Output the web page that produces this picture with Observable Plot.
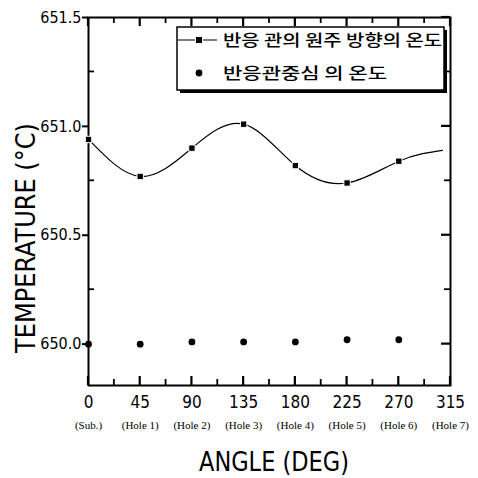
<!DOCTYPE html>
<html><head><meta charset="utf-8">
<script src="https://cdn.jsdelivr.net/npm/d3@7"></script>
<script src="https://cdn.jsdelivr.net/npm/@observablehq/plot@0.6"></script>
<style>body{margin:0;background:#fff}</style>
</head><body><div id="chart"></div>
<script>
const angles = [0, 45, 90, 135, 180, 225, 270];
const wallTemp = [650.94, 650.77, 650.90, 651.01, 650.82, 650.74, 650.84];
const curveEnd = {angle: 308, temp: 650.89};
const centerTemp = [650.00, 650.00, 650.01, 650.01, 650.01, 650.02, 650.02];
const xTicks = [0, 45, 90, 135, 180, 225, 270, 315];
const xTickSub = ["(Sub.)", "(Hole 1)", "(Hole 2)", "(Hole 3)", "(Hole 4)", "(Hole 5)", "(Hole 6)", "(Hole 7)"];
const xMinor = [22.5, 67.5, 112.5, 157.5, 202.5, 247.5, 292.5];
const yTicks = [650.0, 650.5, 651.0, 651.5];
const yMinor = [650.25, 650.75, 651.25];
const legendLabels = ["반응 관의 원주 방향의 온도", "반응관중심 의 온도"];
const xTitle = "ANGLE (DEG)";
const yTitle = "TEMPERATURE (°C)";

const wall = angles.map((a, i) => ({angle: a, temp: wallTemp[i]}));
const wallCurve = [...wall, curveEnd];
const center = angles.map((a, i) => ({angle: a, temp: centerTemp[i]}));
const xLab = xTicks.map((t, i) => ({t, sub: xTickSub[i]}));
const FONT = "'DejaVu Sans Condensed', 'Liberation Sans', Arial, sans-serif";
const SERIF = "'Liberation Serif', 'DejaVu Serif', serif";

const plot = Plot.plot({
  width: 478, height: 478,
  marginLeft: 88, marginRight: 28, marginTop: 17, marginBottom: 93,
  x: {domain: [0, 315], axis: null},
  y: {domain: [649.81, 651.5]},
  style: {fontFamily: FONT, background: "white", color: "black"},
  marks: [
    Plot.axisY({anchor: "left", ticks: yTicks, tickSize: 6, tickPadding: 1, tickFormat: d3.format(".1f"), fontSize: 16, label: null, strokeWidth: 2}),
    Plot.frame({strokeWidth: 2}),
    Plot.text(xLab, {x: "t", text: d => String(d.t), frameAnchor: "bottom", dy: 22, fontSize: 17}),
    Plot.text(xLab, {x: "t", text: "sub", frameAnchor: "bottom", dy: 43, fontSize: 11, fontFamily: SERIF}),
    Plot.line(wallCurve, {x: "angle", y: "temp", curve: "natural", stroke: "black", strokeWidth: 1.2}),
    Plot.dot(wall, {x: "angle", y: "temp", symbol: "square", r: 3.6, fill: "black", stroke: "white", strokeWidth: 1}),
    Plot.dot(center, {x: "angle", y: "temp", r: 3.4, fill: "black"})
  ]
});
document.getElementById("chart").appendChild(plot);

const svg = d3.select(plot);
const px = plot.scale("x"), py = plot.scale("y");
const sx = d3.scaleLinear(px.domain, px.range);
const sy = d3.scaleLinear(py.domain, py.range);
const [X0, X1] = px.range, [Y0, Y1] = py.range;
const tg = svg.append("g").attr("stroke", "black").attr("fill", "none");
function tickX(v, len, w) {
  const x = sx(v);
  tg.append("path").attr("d", `M${x},${Y0}V${Y0 - len}M${x},${Y1}V${Y1 + len}`).attr("stroke-width", w);
}
function tickY(v, len, w, left) {
  const y = sy(v);
  if (left) tg.append("path").attr("d", `M${X0},${y}H${X0 + len}`).attr("stroke-width", w);
  tg.append("path").attr("d", `M${X1},${y}H${X1 - len}`).attr("stroke-width", w);
}
xTicks.forEach(v => tickX(v, 9, 2.2));
xMinor.forEach(v => tickX(v, 6, 1.8));
yTicks.forEach(v => tickY(v, 9, 2.2, false));
yMinor.forEach(v => tickY(v, 6, 1.8, true));

// axis titles
svg.append("text").attr("transform", "translate(35,238) rotate(-90)")
  .attr("text-anchor", "middle").attr("font-family", FONT).attr("font-size", 26)
  .attr("textLength", 230).attr("lengthAdjust", "spacingAndGlyphs").text(yTitle);
svg.append("text").attr("x", 274).attr("y", 471)
  .attr("text-anchor", "middle").attr("font-family", FONT).attr("font-size", 26)
  .attr("textLength", 150).attr("lengthAdjust", "spacingAndGlyphs").text(xTitle);

// legend
const lg = svg.append("g").attr("text-anchor", "start");
lg.append("rect").attr("x", 177).attr("y", 27).attr("width", 267).attr("height", 63)
  .attr("fill", "white").attr("stroke", "black").attr("stroke-width", 1.5);
lg.append("path").attr("d", "M180,91.5H445.5V30").attr("fill", "none").attr("stroke", "black").attr("stroke-width", 3);
lg.append("line").attr("x1", 178).attr("x2", 217).attr("y1", 40).attr("y2", 40).attr("stroke", "black").attr("stroke-width", 1.2);
lg.append("rect").attr("x", 195.5).attr("y", 36.5).attr("width", 7).attr("height", 7).attr("fill", "black").attr("stroke", "white");
lg.append("circle").attr("cx", 199).attr("cy", 73).attr("r", 3.4).attr("fill", "black");
const kr = "'Noto Sans CJK KR', sans-serif";
lg.append("text").attr("x", 223).attr("y", 46).attr("font-family", kr).attr("font-size", 16).attr("font-weight", 500)
  .attr("textLength", 219).attr("lengthAdjust", "spacingAndGlyphs").text(legendLabels[0]);
lg.append("text").attr("x", 223).attr("y", 79).attr("font-family", kr).attr("font-size", 16).attr("font-weight", 500)
  .attr("textLength", 164).attr("lengthAdjust", "spacingAndGlyphs").text(legendLabels[1]);
</script>
</body></html>
